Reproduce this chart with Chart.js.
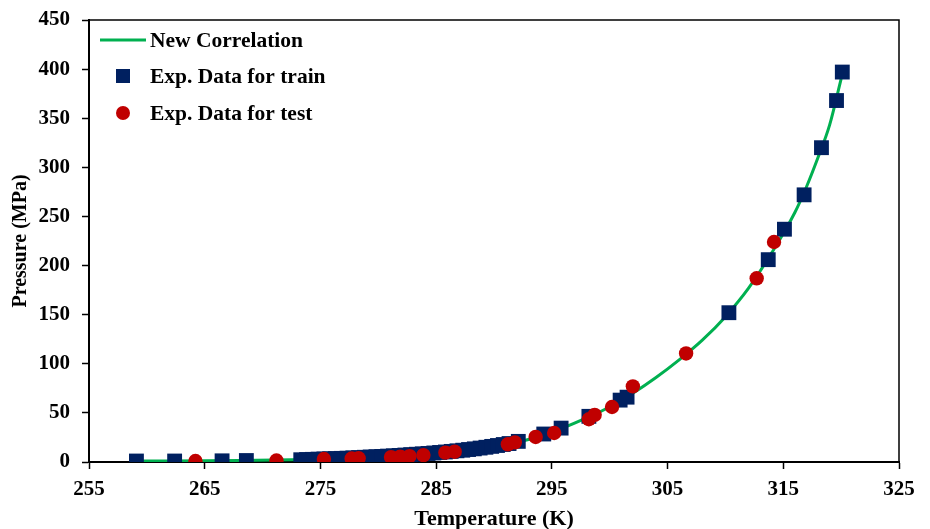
<!DOCTYPE html>
<html>
<head>
<meta charset="utf-8">
<script src="https://cdn.jsdelivr.net/npm/chart.js@4/dist/chart.umd.min.js"></script>
<style>
html,body{margin:0;padding:0;background:#fff;}
#wrap{position:relative;width:930px;height:529px;}
</style>
</head>
<body>
<div id="wrap"><canvas id="c" width="930" height="529"></canvas></div>
<script>
// Curve: New Correlation
const curveT = [259,262,265,268,271,274,277,280,283,286,288,290,292,294,296,298,300,302,304,306,308,310,312,314,316,317,318,319,320];
const curveP = [1.0,1.1,1.3,1.6,2.0,2.6,3.4,4.6,6.3,9.0,11.5,15,20,26.5,35,45,56,70,86,104,124,148,177,213,254,280,310,343,390];

// Experimental data used for training
const trainT = [259.1,262.4,266.5,268.6,
  273.3,273.8,274.3,274.8,275.3,275.8,276.3,276.8,277.3,277.8,278.3,278.8,279.3,279.8,280.3,280.8,281.3,281.8,282.3,282.8,283.3,283.8,284.3,284.8,285.3,285.8,286.3,286.8,287.3,287.8,288.3,288.8,289.3,289.8,290.3,290.8,291.3,
  292.1,294.3,295.8,298.2,300.9,301.5,310.3,313.7,315.1,316.8,318.3,319.6,320.1];
const trainP = [1.0,1.0,1.2,1.5,
  2.3,2.5,2.7,2.9,3.1,3.3,3.5,3.7,3.9,4.2,4.5,4.8,5.1,5.4,5.7,6.0,6.3,6.7,7.1,7.5,7.9,8.3,8.7,9.2,9.7,10.2,10.8,11.4,12.0,12.7,13.4,14.2,15.0,15.9,16.8,17.8,18.8,
  21,28.5,34.5,46.5,63,66,152,206,237,272,320,368,397];

// Experimental data used for testing
const testT = [264.2,271.2,275.3,277.7,278.3,281.1,281.9,282.7,283.9,285.8,286.6,291.2,291.8,293.6,295.2,298.2,298.7,300.2,302.0,306.6,312.7,314.2];
const testP = [1.0,1.5,3.0,3.5,3.8,5.0,5.5,6.0,7.0,9.5,10.5,18,20,25.5,29.5,43.5,48,56,77,110.5,187,224];

const xTicks = [255,265,275,285,295,305,315,325];
const yTicks = [0,50,100,150,200,250,300,350,400,450];

const FONT = "'Liberation Serif','Times New Roman',serif";
const toXY = (xs, ys) => xs.map((x, i) => ({x: x, y: ys[i]}));

const framePlugin = {
  id: 'frame',
  afterDatasetsDraw(chart) {
    const {ctx, chartArea: a} = chart;
    ctx.save();
    ctx.strokeStyle = '#000';
    ctx.lineWidth = 1.5;
    ctx.beginPath();
    ctx.moveTo(a.left, a.top);
    ctx.lineTo(a.right, a.top);
    ctx.lineTo(a.right, a.bottom);
    ctx.stroke();
    ctx.restore();
  }
};

const legendPlugin = {
  id: 'inlegend',
  afterDraw(chart) {
    const {ctx} = chart;
    const ds = chart.data.datasets;
    const rows = [40, 76, 113];
    const cx = 123;
    ctx.save();
    ctx.font = "bold 21.5px " + FONT;
    ctx.textBaseline = 'middle';
    ctx.textAlign = 'left';
    ds.forEach((d, i) => {
      const y = rows[i];
      if (d.showLine) {
        ctx.strokeStyle = d.borderColor;
        ctx.lineWidth = 3;
        ctx.beginPath();
        ctx.moveTo(100, y);
        ctx.lineTo(146, y);
        ctx.stroke();
      } else if (d.pointStyle === 'rect') {
        ctx.fillStyle = d.backgroundColor;
        ctx.fillRect(cx - 7, y - 7, 14, 14);
      } else {
        ctx.fillStyle = d.backgroundColor;
        ctx.beginPath();
        ctx.arc(cx, y, 7, 0, Math.PI * 2);
        ctx.fill();
      }
      ctx.fillStyle = '#000';
      ctx.fillText(d.label, 150, y + 1);
    });
    ctx.restore();
  }
};

new Chart(document.getElementById('c'), {
  type: 'scatter',
  data: {
    datasets: [
      {
        label: 'New Correlation',
        data: toXY(curveT, curveP),
        showLine: true,
        borderColor: '#00B050',
        backgroundColor: '#00B050',
        borderWidth: 3,
        pointRadius: 0,
        cubicInterpolationMode: 'monotone',
        order: 3
      },
      {
        label: 'Exp. Data for train',
        data: toXY(trainT, trainP),
        pointStyle: 'rect',
        pointRadius: 10.5,
        backgroundColor: '#002060',
        borderColor: '#002060',
        borderWidth: 0,
        order: 2
      },
      {
        label: 'Exp. Data for test',
        data: toXY(testT, testP),
        pointStyle: 'circle',
        pointRadius: 7.2,
        backgroundColor: '#C00000',
        borderColor: '#C00000',
        borderWidth: 0,
        order: 1
      }
    ]
  },
  options: {
    responsive: false,
    animation: false,
    layout: {padding: {left: 0, right: 31, top: 20, bottom: 0}},
    plugins: {legend: {display: false}, tooltip: {enabled: false}},
    scales: {
      x: {
        type: 'linear',
        min: 255, max: 325,
        afterBuildTicks: s => { s.ticks = xTicks.map(v => ({value: v})); },
        afterFit: s => { s.height = 67; s.paddingLeft = 0; s.paddingRight = 0; },
        grid: {drawOnChartArea: false, drawTicks: true, tickLength: 7, tickColor: '#000', tickWidth: 1.5},
        border: {display: true, color: '#000', width: 2},
        ticks: {color: '#000', font: {family: FONT, size: 21, weight: 'bold'}, padding: 8, maxRotation: 0},
        title: {display: true, text: 'Temperature (K)', color: '#000', font: {family: FONT, size: 22, weight: 'bold'}, padding: {top: 0, bottom: -4}}
      },
      y: {
        type: 'linear',
        min: 0, max: 450,
        afterBuildTicks: s => { s.ticks = yTicks.map(v => ({value: v})); },
        afterFit: s => { s.width = 89; s.paddingTop = 0; s.paddingBottom = 0; },
        grid: {drawOnChartArea: false, drawTicks: true, tickLength: 7, tickColor: '#000', tickWidth: 1.5},
        border: {display: true, color: '#000', width: 2},
        ticks: {color: '#000', font: {family: FONT, size: 21, weight: 'bold'}, padding: 12},
        title: {display: true, text: 'Pressure (MPa)', color: '#000', font: {family: FONT, size: 20, weight: 'bold'}, padding: {top: 9, bottom: 0}}
      }
    }
  },
  plugins: [framePlugin, legendPlugin]
});
</script>
</body>
</html>
